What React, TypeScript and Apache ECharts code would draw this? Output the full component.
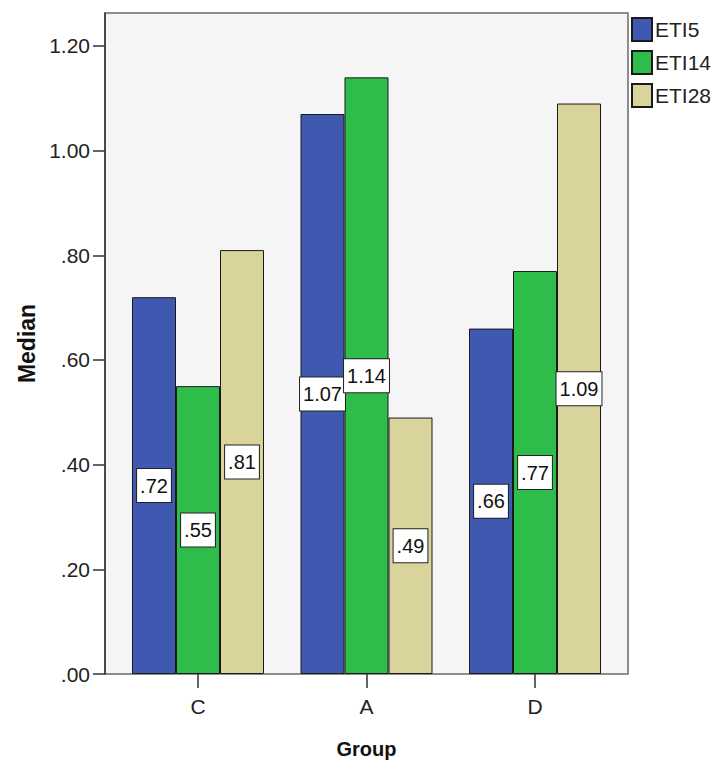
import React, { useEffect, useRef } from "react";
import * as echarts from "echarts";

const categories = ["C", "A", "D"];
const seriesNames = ["ETI5", "ETI14", "ETI28"];
const eti5 = [0.72, 1.07, 0.66];
const eti14 = [0.55, 1.14, 0.77];
const eti28 = [0.81, 0.49, 1.09];
const yTicks = [0, 0.2, 0.4, 0.6, 0.8, 1.0, 1.2];
const colors = ["#3f58b0", "#2ebd4b", "#d9d49c"];

const fmt = (v: number) => v.toFixed(2).replace(/^0/, "");
const FONT = "'Liberation Sans', Arial, sans-serif";

export default function App() {
  const ref = useRef<HTMLDivElement>(null);
  useEffect(() => {
    document.body.style.margin = "0";
    const chart = echarts.init(ref.current!, null, { renderer: "svg" });
    const data = [eti5, eti14, eti28];
    chart.setOption({
      animation: false,
      backgroundColor: "#ffffff",
      textStyle: { fontFamily: FONT },
      grid: { left: 113.75, right: 100.75, top: 13, bottom: 100 },
      graphic: [
        {
          type: "rect",
          z: 0,
          shape: { x: 105, y: 13, width: 523, height: 661 },
          style: { fill: "#f5f5f5", stroke: "#6a6a6a", lineWidth: 1.5 },
        },
      ],
      legend: {
        orient: "vertical",
        left: 631,
        top: 17,
        padding: 0,
        itemWidth: 20,
        itemHeight: 23,
        itemGap: 8,
        icon: "rect",
        data: seriesNames,
        textStyle: { fontSize: 21, color: "#222", fontFamily: FONT, padding: [0, 0, 0, -2] },
      },
      xAxis: {
        type: "category",
        data: categories,
        axisLine: { show: false },
        axisTick: { show: true, alignWithLabel: true, length: 14, lineStyle: { color: "#333", width: 1.5 } },
        axisLabel: { fontSize: 21, color: "#222", margin: 22, fontFamily: FONT },
        name: "Group",
        nameLocation: "middle",
        nameGap: 65,
        nameTextStyle: { fontSize: 20, fontWeight: "bold", color: "#111", fontFamily: FONT },
      },
      yAxis: {
        type: "value",
        min: 0,
        max: 1.263,
        offset: 8.75,
        z: 5,
        axisLine: { show: true, lineStyle: { color: "#333", width: 1.5 } },
        axisTick: { show: true, length: 12, customValues: yTicks, lineStyle: { color: "#333", width: 1.5 } },
        axisLabel: {
          fontSize: 21,
          color: "#222",
          margin: 15,
          customValues: yTicks,
          fontFamily: FONT,
          formatter: (v: number) => fmt(v),
        },
        splitLine: { show: false },
        name: "Median",
        nameLocation: "middle",
        nameGap: 64,
        nameTextStyle: { fontSize: 23, fontWeight: "bold", color: "#111", fontFamily: FONT },
      },
      series: seriesNames.map((name, i) => ({
        name,
        type: "bar",
        data: data[i],
        barWidth: 44,
        barGap: "0%",
        z: 2,
        itemStyle: { color: colors[i], borderColor: "#1a1a1a", borderWidth: 1 },
        label: {
          show: true,
          position: "inside",
          formatter: (p: any) => fmt(p.value),
          backgroundColor: "#ffffff",
          borderColor: "#222",
          borderWidth: 1,
          padding: [7, 3, 6, 3],
          fontSize: 20,
          color: "#111",
          fontFamily: FONT,
        },
      })),
    });
    return () => chart.dispose();
  }, []);
  return <div ref={ref} style={{ width: 720, height: 774 }} />;
}
